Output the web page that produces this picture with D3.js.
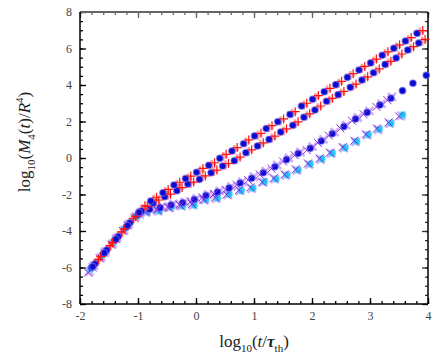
<!DOCTYPE html>
<html>
<head>
<meta charset="utf-8">
<script src="https://cdn.jsdelivr.net/npm/d3@7"></script>
<style>
  html, body { margin: 0; padding: 0; background: #fff; }
  text { font-family: "Liberation Serif", "DejaVu Serif", serif; }
</style>
</head>
<body>
<div id="chart"></div>
<script>
// Axis ticks
var xTicks = [-2, -1, 0, 1, 2, 3, 4];
var yTicks = [-8, -6, -4, -2, 0, 2, 4, 6, 8];

// Line A (top): blue dots, red +, light red +
var aDots = [[-1.78,-5.95],[-1.58,-5.2],[-1.38,-4.45],[-1.18,-3.7],[-0.98,-2.98],[-0.78,-2.36],[-0.57,-1.90],[-0.38,-1.48],[-0.18,-1.13],[0.01,-0.78],[0.22,-0.40],[0.41,-0.02],[0.62,0.38],[0.82,0.78],[1.01,1.21],[1.21,1.61],[1.41,1.99],[1.62,2.39],[1.82,2.85],[2.01,3.22],[2.21,3.63],[2.41,4.02],[2.61,4.42],[2.81,4.82],[3.01,5.21],[3.21,5.63],[3.41,6.01],[3.61,6.41],[3.81,6.83]];
var aPlus = [[-1.68,-5.55],[-1.48,-4.8],[-1.28,-4.05],[-1.08,-3.3],[-0.88,-2.62],[-0.68,-2.15],[-0.48,-1.72],[-0.28,-1.33],[-0.09,-0.99],[0.12,-0.57],[0.32,-0.26],[0.52,0.20],[0.71,0.57],[0.91,0.99],[1.12,1.35],[1.31,1.77],[1.51,2.14],[1.71,2.54],[1.91,3.0],[2.11,3.42],[2.31,3.82],[2.51,4.2],[2.71,4.62],[2.91,5.02],[3.11,5.42],[3.31,5.82],[3.51,6.2],[3.71,6.6],[3.91,6.98]];
var aPlusLight = [[-1.73,-5.75],[-1.53,-5.0],[-1.33,-4.25],[-1.13,-3.5],[-0.93,-2.8],[-0.73,-2.25],[-0.53,-1.85],[-0.33,-1.45],[-0.14,-1.1],[0.07,-0.7],[0.27,-0.36],[0.47,0.08],[0.66,0.46],[0.86,0.88],[1.07,1.25],[1.26,1.66],[1.46,2.04],[1.66,2.44],[1.86,2.9],[2.06,3.32],[2.26,3.72],[2.46,4.1],[2.66,4.52],[2.86,4.92],[3.06,5.32],[3.26,5.72],[3.46,6.1],[3.66,6.5],[3.86,6.9]];

// Line B (second): blue dots, red +, light red +
var bDots = [[-1.74,-5.8],[-1.54,-5.05],[-1.34,-4.3],[-1.14,-3.55],[-0.94,-2.9],[-0.74,-2.48],[-0.54,-2.12],[-0.33,-1.79],[-0.14,-1.43],[0.06,-1.17],[0.26,-0.81],[0.46,-0.44],[0.66,-0.15],[0.86,0.29],[1.06,0.66],[1.26,1.02],[1.46,1.42],[1.67,1.79],[1.86,2.23],[2.05,2.63],[2.25,3.11],[2.45,3.47],[2.66,3.87],[2.86,4.27],[3.06,4.67],[3.26,5.13],[3.45,5.48],[3.65,5.92],[3.84,6.30]];
var bPlus = [[-1.64,-5.4],[-1.44,-4.65],[-1.24,-3.9],[-1.04,-3.2],[-0.84,-2.65],[-0.64,-2.3],[-0.44,-1.98],[-0.24,-1.62],[-0.04,-1.32],[0.16,-0.98],[0.36,-0.66],[0.56,-0.3],[0.76,0.05],[0.96,0.45],[1.16,0.83],[1.36,1.2],[1.56,1.6],[1.76,1.98],[1.96,2.42],[2.15,2.85],[2.35,3.27],[2.55,3.65],[2.76,4.05],[2.96,4.45],[3.16,4.88],[3.36,5.3],[3.55,5.7],[3.75,6.1],[3.95,6.5]];
var bPlusLight = [[-1.69,-5.6],[-1.49,-4.85],[-1.29,-4.1],[-1.09,-3.38],[-0.89,-2.78],[-0.69,-2.4],[-0.49,-2.06],[-0.29,-1.7],[-0.09,-1.4],[0.11,-1.06],[0.31,-0.74],[0.51,-0.38],[0.71,-0.04],[0.91,0.36],[1.11,0.74],[1.31,1.1],[1.51,1.5],[1.71,1.88],[1.91,2.32],[2.1,2.75],[2.3,3.17],[2.5,3.55],[2.71,3.95],[2.91,4.35],[3.11,4.77],[3.31,5.2],[3.5,5.6],[3.7,6.0],[3.9,6.4]];

// Line C (third): blue dots, violet x, light violet x
var cDots = [[-1.80,-6.0],[-1.60,-5.25],[-1.40,-4.5],[-1.20,-3.78],[-1.00,-3.1],[-0.80,-2.81],[-0.62,-2.72],[-0.43,-2.58],[-0.23,-2.45],[-0.03,-2.28],[0.17,-2.06],[0.37,-1.87],[0.57,-1.64],[0.76,-1.37],[0.96,-1.11],[1.16,-0.81],[1.36,-0.48],[1.56,-0.09],[1.76,0.25],[1.97,0.53],[2.16,0.93],[2.35,1.33],[2.55,1.72],[2.75,2.14],[2.95,2.50],[3.17,2.90],[3.36,3.27],[3.56,3.69],[3.74,4.1],[3.97,4.53]];
var cCross = [[-1.86,-6.28],[-1.66,-5.5],[-1.46,-4.75],[-1.26,-4.0],[-1.06,-3.3],[-0.86,-2.92],[-0.68,-2.8],[-0.49,-2.68],[-0.29,-2.55],[-0.09,-2.38],[0.11,-2.16],[0.31,-1.97],[0.51,-1.74],[0.7,-1.47],[0.9,-1.21],[1.1,-0.91],[1.3,-0.58],[1.5,-0.19],[1.7,0.15],[1.91,0.43],[2.1,0.83],[2.29,1.23],[2.49,1.62],[2.69,2.04],[2.89,2.4],[3.11,2.8],[3.3,3.17]];
var cCrossLight = [[-1.76,-5.9],[-1.56,-5.12],[-1.36,-4.38],[-1.16,-3.62],[-0.96,-3.0],[-0.76,-2.78],[-0.58,-2.66],[-0.39,-2.52],[-0.19,-2.4],[0.01,-2.22],[0.21,-2.0],[0.41,-1.8],[0.61,-1.56],[0.8,-1.3],[1.0,-1.02],[1.2,-0.72],[1.4,-0.38],[1.6,0.0],[1.8,0.33],[2.01,0.62],[2.2,1.02],[2.39,1.42],[2.59,1.8],[2.79,2.22],[2.99,2.58],[3.2,2.98],[3.38,3.35]];

// Line D (bottom): cyan dots, violet x, light violet x
var dDots = [[-1.82,-6.1],[-1.62,-5.35],[-1.42,-4.6],[-1.22,-3.85],[-1.02,-3.2],[-0.84,-2.94],[-0.63,-2.90],[-0.43,-2.70],[-0.23,-2.63],[-0.03,-2.58],[0.17,-2.27],[0.37,-2.21],[0.57,-1.99],[0.78,-1.79],[0.98,-1.66],[1.18,-1.30],[1.38,-1.15],[1.57,-0.93],[1.76,-0.66],[1.97,-0.33],[2.17,-0.05],[2.35,0.26],[2.57,0.56],[2.77,0.91],[2.97,1.28],[3.16,1.57],[3.36,1.90],[3.56,2.36]];
var dCross = [[-1.78,-6.0],[-1.58,-5.2],[-1.38,-4.45],[-1.18,-3.7],[-0.98,-3.1],[-0.88,-2.98],[-0.67,-2.86],[-0.47,-2.74],[-0.27,-2.6],[-0.07,-2.52],[0.13,-2.3],[0.33,-2.16],[0.53,-2.0],[0.74,-1.76],[0.94,-1.6],[1.14,-1.33],[1.34,-1.1],[1.53,-0.9],[1.72,-0.62],[1.93,-0.3],[2.13,-0.02],[2.31,0.3],[2.53,0.6],[2.73,0.95],[2.93,1.3],[3.12,1.62],[3.32,1.95],[3.5,2.28]];
var dCrossLight = [[-1.84,-6.22],[-1.64,-5.45],[-1.44,-4.7],[-1.24,-3.95],[-1.04,-3.22],[-0.86,-2.96],[-0.65,-2.92],[-0.45,-2.72],[-0.25,-2.64],[-0.05,-2.6],[0.15,-2.3],[0.35,-2.22],[0.55,-2.02],[0.76,-1.8],[0.96,-1.68],[1.16,-1.32],[1.36,-1.16],[1.55,-0.95],[1.74,-0.68],[1.95,-0.36],[2.15,-0.08],[2.33,0.24],[2.55,0.54],[2.75,0.88],[2.95,1.25],[3.14,1.55],[3.34,1.88],[3.54,2.32]];

var width = 436;
var height = 364;
var plotLeft = 80, plotRight = 428, plotTop = 12, plotBottom = 304;

var svg = d3.select("#chart")
  .append("svg")
    .attr("width", width)
    .attr("height", height);

var x = d3.scaleLinear().domain([-2, 4]).range([plotLeft, plotRight]);
var y = d3.scaleLinear().domain([-8, 8]).range([plotBottom, plotTop]);

function translate(tx, ty) {
  return "translate(" + tx + "," + ty + ")";
}

var xMinor = d3.range(-2, 4.001, 0.2).map(function (v) { return +v.toFixed(1); });
var yMinor = d3.range(-8, 8.001, 0.5);
var plainFormat = function (d) { return String(d); };

function styleAxis(g, color) {
  g.select(".domain").remove();
  g.selectAll("line").attr("stroke", color).attr("stroke-width", 1.3);
  g.selectAll("text")
    .attr("fill", "#444")
    .style("font-size", "12px")
    .style("font-family", "'Liberation Serif', serif");
}

// bottom
svg.append("g").attr("transform", translate(0, plotBottom))
  .call(d3.axisBottom(x).tickValues(xMinor).tickSize(-3).tickFormat(""))
  .call(styleAxis, "#000");
svg.append("g").attr("transform", translate(0, plotBottom))
  .call(d3.axisBottom(x).tickValues(xTicks).tickSize(-6).tickPadding(7).tickFormat(plainFormat))
  .call(styleAxis, "#000");
// top
svg.append("g").attr("transform", translate(0, plotTop))
  .call(d3.axisTop(x).tickValues(xMinor).tickSize(-3).tickFormat(""))
  .call(styleAxis, "#666");
svg.append("g").attr("transform", translate(0, plotTop))
  .call(d3.axisTop(x).tickValues(xTicks).tickSize(-6).tickFormat(""))
  .call(styleAxis, "#666");
// left
svg.append("g").attr("transform", translate(plotLeft, 0))
  .call(d3.axisLeft(y).tickValues(yMinor).tickSize(-3).tickFormat(""))
  .call(styleAxis, "#000");
svg.append("g").attr("transform", translate(plotLeft, 0))
  .call(d3.axisLeft(y).tickValues(yTicks).tickSize(-6).tickPadding(8).tickFormat(plainFormat))
  .call(styleAxis, "#000");
// right
svg.append("g").attr("transform", translate(plotRight, 0))
  .call(d3.axisRight(y).tickValues(yMinor).tickSize(-3).tickFormat(""))
  .call(styleAxis, "#333");
svg.append("g").attr("transform", translate(plotRight, 0))
  .call(d3.axisRight(y).tickValues(yTicks).tickSize(-6).tickFormat(""))
  .call(styleAxis, "#333");

// frame
svg.append("line").attr("x1", plotLeft).attr("x2", plotRight).attr("y1", plotTop).attr("y2", plotTop)
  .attr("stroke", "#666").attr("stroke-width", 2);
svg.append("line").attr("x1", plotLeft).attr("x2", plotRight).attr("y1", plotBottom).attr("y2", plotBottom)
  .attr("stroke", "#000").attr("stroke-width", 1.5);
svg.append("line").attr("x1", plotLeft).attr("x2", plotLeft).attr("y1", plotTop).attr("y2", plotBottom)
  .attr("stroke", "#000").attr("stroke-width", 1.5);
svg.append("line").attr("x1", plotRight).attr("x2", plotRight).attr("y1", plotTop).attr("y2", plotBottom)
  .attr("stroke", "#000").attr("stroke-width", 1.5);

// marker helpers
var plotG = svg.append("g");

function drawPlus(data, color, size, w) {
  plotG.append("g").selectAll("path")
    .data(data).enter()
    .append("path")
      .attr("transform", function (d) { return translate(x(d[0]), y(d[1])); })
      .attr("d", "M" + (-size) + ",0H" + size + "M0," + (-size) + "V" + size)
      .attr("stroke", color)
      .attr("stroke-width", w)
      .attr("fill", "none");
}

function drawCross(data, color, size, w) {
  plotG.append("g").selectAll("path")
    .data(data).enter()
    .append("path")
      .attr("transform", function (d) { return translate(x(d[0]), y(d[1])); })
      .attr("d", "M" + (-size) + "," + (-size) + "L" + size + "," + size +
                 "M" + (-size) + "," + size + "L" + size + "," + (-size))
      .attr("stroke", color)
      .attr("stroke-width", w)
      .attr("fill", "none");
}

function drawDots(data, color, halo) {
  plotG.append("g").selectAll("circle")
    .data(data).enter()
    .append("circle")
      .attr("cx", function (d) { return x(d[0]); })
      .attr("cy", function (d) { return y(d[1]); })
      .attr("r", 3.3)
      .attr("fill", color)
      .attr("stroke", halo)
      .attr("stroke-width", 1.4);
}

// lower pair first
drawCross(dCrossLight, "rgba(185,120,235,0.6)", 4, 2.6);
drawCross(cCrossLight, "rgba(185,120,235,0.6)", 4, 2.6);
drawDots(dDots, "#1cc4f6", "rgba(100,215,250,0.6)");
drawDots(cDots, "#0a0ad0", "rgba(110,110,240,0.55)");
drawCross(dCross, "#8a2be2", 4, 1);
drawCross(cCross, "#8a2be2", 4, 1);

// upper pair
drawPlus(bPlusLight, "rgba(255,85,85,0.55)", 4.5, 2.6);
drawPlus(aPlusLight, "rgba(255,85,85,0.55)", 4.5, 2.6);
drawDots(bDots, "#0a0ad0", "rgba(130,110,230,0.55)");
drawDots(aDots, "#0a0ad0", "rgba(130,110,230,0.55)");
drawPlus(bPlus, "#ff1010", 4.5, 1.2);
drawPlus(aPlus, "#ff1010", 4.5, 1.2);

// x title: log10(t/τth)
var xt = svg.append("text")
  .attr("x", (plotLeft + plotRight) / 2)
  .attr("y", 347)
  .attr("text-anchor", "middle")
  .style("font-size", "17px")
  .attr("fill", "#222");
xt.append("tspan").text("log");
xt.append("tspan").attr("dy", 5).style("font-size", "11px").text("10");
xt.append("tspan").attr("dy", -5).text("(");
xt.append("tspan").style("font-style", "italic").text("t");
xt.append("tspan").text("/");
xt.append("tspan").style("font-style", "italic").style("font-weight", "bold").text("τ");
xt.append("tspan").attr("dy", 5).style("font-size", "11px").text("th");
xt.append("tspan").attr("dy", -5).text(")");

// y title: log10(M4(t)/R^4)
var yt = svg.append("text")
  .attr("transform", translate(30, 142) + " rotate(-90)")
  .attr("text-anchor", "middle")
  .style("font-size", "17px")
  .attr("fill", "#222");
yt.append("tspan").text("log");
yt.append("tspan").attr("dy", 5).style("font-size", "11px").text("10");
yt.append("tspan").attr("dy", -5).text("(");
yt.append("tspan").style("font-style", "italic").text("M");
yt.append("tspan").attr("dy", 5).style("font-size", "11px").text("4");
yt.append("tspan").attr("dy", -5).text("(");
yt.append("tspan").style("font-style", "italic").text("t");
yt.append("tspan").text(")/");
yt.append("tspan").style("font-style", "italic").text("R");
yt.append("tspan").attr("dy", -7).style("font-size", "11px").text("4");
yt.append("tspan").attr("dy", 7).text(")");
</script>
</body>
</html>
